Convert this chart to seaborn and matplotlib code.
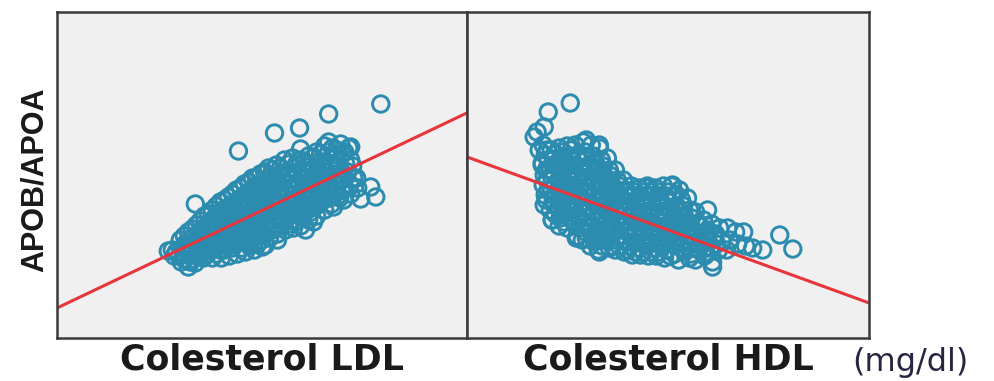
import matplotlib
matplotlib.use("Agg")
import matplotlib.pyplot as plt
from matplotlib import font_manager
import seaborn as sns

# LDL panel (mg/dl vs APOB/APOA ratio)
ldl = [
    86, 87,
    90, 91, 89.5, 90.5,
    94, 95, 93.5, 94.5, 95,
    98, 99, 97.5, 98.5, 99, 97.5,
    102, 103, 101.5, 102.5, 103, 101.5,
    106, 107, 105.5, 106.5, 107, 105.5, 106,
    110, 111, 109.5, 110.5, 111, 109.5, 110, 110.5,
    114, 115, 113.5, 114.5, 115, 113.5, 114, 114.5,
    118, 119, 117.5, 118.5, 119, 117.5, 118, 118.5,
    122, 123, 121.5, 122.5, 123, 121.5, 122, 122.5,
    126, 127, 125.5, 126.5, 127, 125.5, 126, 126.5, 127,
    130, 131, 129.5, 130.5, 131, 129.5, 130, 130.5, 131,
    134, 135, 133.5, 134.5, 135, 133.5, 134, 134.5,
    138, 139, 137.5, 138.5, 139, 137.5, 138, 138.5,
    142, 143, 141.5, 142.5, 143, 141.5, 142, 142.5,
    146, 147, 145.5, 146.5, 147, 145.5, 146, 146.5,
    150, 151, 149.5, 150.5, 151, 149.5, 150,
    154, 155, 153.5, 154.5, 155, 153.5, 154,
    158, 159, 157.5, 158.5, 159, 157.5, 158,
    162, 163, 161.5, 162.5, 163, 161.5, 162,
    166, 167, 165.5, 166.5, 167, 165.5,
    170, 171, 169.5, 170.5, 171, 169.5,
    174, 175, 173.5, 174.5, 175,
    178, 178.5,
    # core of the cloud
    88,
    92, 92.5, 91.5, 92,
    96, 96.5, 95.5, 96, 96.5,
    100, 100.5, 99.5, 100, 100.5,
    104, 104.5, 103.5, 104, 104.5, 103.5,
    108, 108.5, 107.5, 108, 108.5, 107.5, 108,
    112, 112.5, 111.5, 112, 112.5, 111.5, 112,
    116, 116.5, 115.5, 116, 116.5, 115.5, 116,
    120, 120.5, 119.5, 120, 120.5, 119.5, 120, 120.5,
    124, 124.5, 123.5, 124, 124.5, 123.5, 124, 124.5,
    128, 128.5, 127.5, 128, 128.5, 127.5, 128, 128.5,
    132, 132.5, 131.5, 132, 132.5, 131.5, 132,
    136, 136.5, 135.5, 136, 136.5, 135.5, 136,
    140, 140.5, 139.5, 140, 140.5, 139.5, 140,
    144, 144.5, 143.5, 144, 144.5, 143.5, 144,
    148, 148.5, 147.5, 148, 148.5, 147.5,
    152, 152.5, 151.5, 152, 152.5, 151.5,
    156, 156.5, 155.5, 156, 156.5, 155.5,
    160, 160.5, 159.5, 160, 160.5, 159.5,
    164, 164.5, 163.5, 164, 164.5,
    168, 168.5, 167.5, 168, 168.5,
    172, 172.5, 171.5, 172,
    176, 176.5,
    # outliers
    190, 164, 149.5, 137, 119, 150, 97.5, 84, 94, 185,
    187.5, 180, 164, 175, 132.5, 138.5, 152.5, 156.5, 166.5, 171.5,
]
ratio_ldl = [
    0.44, 0.41,
    0.49, 0.45, 0.41, 0.38,
    0.53, 0.49, 0.45, 0.415, 0.38,
    0.565, 0.525, 0.485, 0.445, 0.405, 0.375,
    0.61, 0.56, 0.52, 0.48, 0.44, 0.40,
    0.64, 0.60, 0.56, 0.52, 0.48, 0.44, 0.40,
    0.68, 0.64, 0.60, 0.56, 0.52, 0.48, 0.44, 0.40,
    0.705, 0.66, 0.62, 0.58, 0.54, 0.50, 0.46, 0.41,
    0.74, 0.69, 0.64, 0.60, 0.56, 0.52, 0.48, 0.42,
    0.77, 0.72, 0.67, 0.62, 0.58, 0.54, 0.50, 0.43,
    0.80, 0.75, 0.70, 0.65, 0.60, 0.56, 0.52, 0.47, 0.44,
    0.82, 0.77, 0.72, 0.67, 0.62, 0.57, 0.53, 0.49, 0.455,
    0.85, 0.80, 0.74, 0.69, 0.64, 0.59, 0.54, 0.50,
    0.865, 0.815, 0.76, 0.71, 0.66, 0.61, 0.56, 0.52,
    0.89, 0.83, 0.78, 0.73, 0.68, 0.63, 0.58, 0.54,
    0.90, 0.85, 0.79, 0.74, 0.69, 0.64, 0.59, 0.55,
    0.89, 0.84, 0.78, 0.72, 0.66, 0.61, 0.56,
    0.91, 0.86, 0.80, 0.74, 0.69, 0.64, 0.59,
    0.93, 0.88, 0.82, 0.76, 0.71, 0.66, 0.61,
    0.96, 0.91, 0.85, 0.79, 0.74, 0.69, 0.64,
    0.95, 0.90, 0.84, 0.78, 0.72, 0.67,
    0.97, 0.92, 0.86, 0.80, 0.74, 0.70,
    0.95, 0.89, 0.83, 0.77, 0.72,
    0.80, 0.75,
    # core of the cloud
    0.43,
    0.51, 0.47, 0.43, 0.395,
    0.545, 0.505, 0.465, 0.43, 0.395,
    0.585, 0.54, 0.50, 0.46, 0.42,
    0.62, 0.58, 0.54, 0.50, 0.46, 0.42,
    0.66, 0.62, 0.58, 0.54, 0.50, 0.46, 0.42,
    0.69, 0.64, 0.60, 0.56, 0.52, 0.48, 0.44,
    0.72, 0.67, 0.62, 0.58, 0.54, 0.50, 0.45,
    0.75, 0.70, 0.65, 0.61, 0.57, 0.53, 0.49, 0.45,
    0.78, 0.73, 0.68, 0.63, 0.58, 0.54, 0.50, 0.46,
    0.80, 0.75, 0.70, 0.65, 0.60, 0.55, 0.51, 0.47,
    0.83, 0.77, 0.72, 0.67, 0.62, 0.57, 0.52,
    0.84, 0.79, 0.74, 0.69, 0.64, 0.59, 0.54,
    0.85, 0.80, 0.75, 0.70, 0.65, 0.60, 0.56,
    0.87, 0.82, 0.77, 0.72, 0.67, 0.62, 0.57,
    0.87, 0.82, 0.76, 0.70, 0.64, 0.58,
    0.88, 0.83, 0.77, 0.72, 0.67, 0.62,
    0.90, 0.84, 0.78, 0.73, 0.68, 0.63,
    0.92, 0.87, 0.82, 0.77, 0.72, 0.67,
    0.93, 0.87, 0.81, 0.75, 0.70,
    0.94, 0.88, 0.82, 0.76, 0.71,
    0.93, 0.87, 0.81, 0.75,
    0.86, 0.80,
    # outliers
    1.17, 1.12, 1.05, 1.025, 0.935, 0.945, 0.67, 0.435, 0.355, 0.755,
    0.705, 0.695, 0.98, 0.955, 0.465, 0.49, 0.54, 0.58, 0.655, 0.69,
]

# HDL panel
hdl = [
    29, 29.5, 28.75, 29.25, 29, 29.5, 29.25,
    31, 31.5, 30.75, 31.25, 31, 31.5, 30.75, 31.25,
    33, 33.5, 32.75, 33.25, 33, 33.5, 32.75, 33.25, 33,
    35, 35.5, 34.75, 35.25, 35, 35.5, 34.75, 35.25, 35,
    37, 37.5, 36.75, 37.25, 37, 37.5, 36.75, 37.25, 37, 37.5,
    39, 39.5, 38.75, 39.25, 39, 39.5, 38.75, 39.25, 39, 39.5, 38.75,
    41, 41.5, 40.75, 41.25, 41, 41.5, 40.75, 41.25, 41, 41.5, 40.75,
    43, 43.5, 42.75, 43.25, 43, 43.5, 42.75, 43.25, 43, 43.5, 42.75,
    45, 45.5, 44.75, 45.25, 45, 45.5, 44.75, 45.25, 45, 45.5,
    47, 47.5, 46.75, 47.25, 47, 47.5, 46.75, 47.25, 47,
    49, 49.5, 48.75, 49.25, 49, 49.5, 48.75, 49.25,
    51, 51.5, 50.75, 51.25, 51, 51.5, 50.75, 51.25,
    53, 53.5, 52.75, 53.25, 53, 53.5, 52.75, 53.25,
    55, 55.5, 54.75, 55.25, 55, 55.5, 54.75, 55.25,
    57, 57.5, 56.75, 57.25, 57, 57.5, 56.75, 57.25,
    59, 59.5, 58.75, 59.25, 59, 59.5, 58.75, 59.25,
    61, 61.5, 60.75, 61.25, 61, 61.5, 60.75,
    63, 63.5, 62.75, 63.25, 63, 63.5, 62.75,
    65, 65.5, 64.75, 65.25, 65, 65.5,
    67, 67.5, 66.75, 67.25, 67,
    69, 69.5, 68.75, 69.25,
    71, 71.5, 70.75, 71.25,
    73, 73.5, 72.75,
    75, 75.5, 74.75,
    77, 77.5,
    79, 79.5,
    # core of the cloud
    30, 30.25, 29.75, 30, 30.25, 29.75,
    32, 32.25, 31.75, 32, 32.25, 31.75, 32,
    34, 34.25, 33.75, 34, 34.25, 33.75, 34, 34.25,
    36, 36.25, 35.75, 36, 36.25, 35.75, 36, 36.25,
    38, 38.25, 37.75, 38, 38.25, 37.75, 38, 38.25,
    40, 40.25, 39.75, 40, 40.25, 39.75, 40, 40.25, 39.75,
    42, 42.25, 41.75, 42, 42.25, 41.75, 42, 42.25, 41.75,
    44, 44.25, 43.75, 44, 44.25, 43.75, 44, 44.25, 43.75,
    46, 46.25, 45.75, 46, 46.25, 45.75, 46, 46.25,
    48, 48.25, 47.75, 48, 48.25, 47.75, 48,
    50, 50.25, 49.75, 50, 50.25, 49.75, 50,
    52, 52.25, 51.75, 52, 52.25, 51.75, 52,
    54, 54.25, 53.75, 54, 54.25, 53.75, 54,
    56, 56.25, 55.75, 56, 56.25, 55.75, 56,
    58, 58.25, 57.75, 58, 58.25, 57.75, 58,
    60, 60.25, 59.75, 60, 60.25, 59.75,
    62, 62.25, 61.75, 62, 62.25, 61.75,
    64, 64.25, 63.75, 64, 64.25,
    66, 66.25, 65.75, 66,
    68, 68.25, 67.75,
    70, 70.25, 69.75,
    72, 72.25,
    # outliers
    35.75, 30.25, 29.25, 27.5, 26.75, 28, 28.75, 39.75, 43, 70,
    88, 91.25, 83.75, 71.25, 81.25, 61.25, 54.75, 31.25, 37.25, 43,
]
ratio_hdl = [
    0.965, 0.915, 0.865, 0.815, 0.765, 0.715, 0.665,
    0.94, 0.89, 0.84, 0.79, 0.74, 0.69, 0.64, 0.59,
    0.95, 0.90, 0.85, 0.80, 0.75, 0.70, 0.65, 0.60, 0.56,
    0.96, 0.91, 0.86, 0.81, 0.76, 0.71, 0.66, 0.61, 0.55,
    0.965, 0.915, 0.865, 0.815, 0.765, 0.715, 0.665, 0.615, 0.565, 0.51,
    0.98, 0.93, 0.88, 0.83, 0.78, 0.73, 0.68, 0.63, 0.58, 0.53, 0.49,
    0.965, 0.91, 0.86, 0.81, 0.76, 0.71, 0.66, 0.61, 0.56, 0.51, 0.46,
    0.95, 0.89, 0.84, 0.79, 0.74, 0.69, 0.64, 0.59, 0.54, 0.49, 0.44,
    0.90, 0.84, 0.79, 0.74, 0.69, 0.64, 0.59, 0.54, 0.49, 0.45,
    0.84, 0.79, 0.74, 0.69, 0.64, 0.59, 0.54, 0.49, 0.44,
    0.79, 0.74, 0.69, 0.64, 0.59, 0.54, 0.49, 0.43,
    0.76, 0.71, 0.66, 0.61, 0.56, 0.51, 0.46, 0.415,
    0.75, 0.70, 0.65, 0.60, 0.55, 0.50, 0.45, 0.415,
    0.76, 0.71, 0.66, 0.61, 0.56, 0.51, 0.46, 0.41,
    0.75, 0.70, 0.65, 0.60, 0.55, 0.50, 0.45, 0.41,
    0.76, 0.71, 0.66, 0.61, 0.56, 0.51, 0.46, 0.40,
    0.76, 0.71, 0.65, 0.59, 0.53, 0.47, 0.41,
    0.74, 0.69, 0.63, 0.57, 0.51, 0.45, 0.39,
    0.70, 0.64, 0.58, 0.52, 0.46, 0.40,
    0.63, 0.57, 0.51, 0.45, 0.39,
    0.59, 0.53, 0.47, 0.41,
    0.57, 0.51, 0.45, 0.38,
    0.55, 0.49, 0.44,
    0.55, 0.49, 0.44,
    0.53, 0.47,
    0.53, 0.46,
    # core of the cloud
    0.94, 0.89, 0.84, 0.79, 0.74, 0.69,
    0.92, 0.87, 0.82, 0.77, 0.72, 0.67, 0.62,
    0.93, 0.88, 0.83, 0.78, 0.73, 0.68, 0.63, 0.58,
    0.94, 0.89, 0.84, 0.79, 0.74, 0.69, 0.64, 0.59,
    0.90, 0.85, 0.80, 0.75, 0.70, 0.65, 0.60, 0.55,
    0.90, 0.85, 0.80, 0.75, 0.70, 0.65, 0.60, 0.55, 0.50,
    0.88, 0.83, 0.78, 0.73, 0.68, 0.63, 0.58, 0.53, 0.48,
    0.86, 0.81, 0.76, 0.71, 0.66, 0.61, 0.56, 0.51, 0.46,
    0.81, 0.76, 0.71, 0.66, 0.61, 0.56, 0.51, 0.46,
    0.76, 0.71, 0.66, 0.61, 0.56, 0.51, 0.46,
    0.73, 0.68, 0.63, 0.58, 0.53, 0.48, 0.44,
    0.73, 0.68, 0.63, 0.58, 0.53, 0.48, 0.43,
    0.73, 0.68, 0.63, 0.58, 0.53, 0.48, 0.43,
    0.73, 0.68, 0.63, 0.58, 0.53, 0.48, 0.43,
    0.73, 0.68, 0.63, 0.58, 0.53, 0.48, 0.43,
    0.73, 0.68, 0.62, 0.56, 0.50, 0.44,
    0.72, 0.66, 0.60, 0.54, 0.48, 0.42,
    0.66, 0.61, 0.55, 0.49, 0.43,
    0.60, 0.54, 0.48, 0.42,
    0.56, 0.50, 0.44,
    0.54, 0.48, 0.42,
    0.52, 0.47,
    # outliers
    1.175, 1.13, 1.055, 1.03, 1.005, 0.94, 0.875, 0.99, 0.965, 0.64,
    0.515, 0.445, 0.44, 0.355, 0.45, 0.765, 0.75, 0.59, 0.50, 0.43,
]

# fit lines (intercept, slope)
ldl_fit = (0.014, 0.00477)
hdl_fit = (0.978, -0.00728)

teal = "#2b8cb0"
red = "#e8353c"

sns.set_theme(style="white")
plt.rcParams["font.family"] = ["DejaVu Sans"]

# narrow bold face for the y label, if present
try:
    font_manager.findfont("Liberation Sans Narrow", fallback_to_default=False)
    ylab_font, ylab_size = "Liberation Sans Narrow", 26.5
except ValueError:
    ylab_font, ylab_size = "Liberation Sans", 22

fig = plt.figure(figsize=(9.94, 3.81), dpi=100)
ax1 = fig.add_axes([57 / 994, 43 / 381, 410 / 994, 326 / 381])
ax2 = fig.add_axes([467 / 994, 43 / 381, 402 / 994, 326 / 381])

panels = [
    (ax1, ldl, ratio_ldl, ldl_fit, (28.5, 233), "Colesterol LDL"),
    (ax2, hdl, ratio_hdl, hdl_fit, (10, 110.25), "Colesterol HDL"),
]
for ax, xs, ys, fit, xlim, label in panels:
    ax.set_facecolor("#f0f0f0")
    sns.scatterplot(x=xs, y=ys, ax=ax, marker="o", s=140,
                    facecolors="none", edgecolors=teal, linewidth=2.1)
    ax.axline((0, fit[0]), slope=fit[1], color=red, lw=2.2)
    ax.set_xlim(*xlim)
    ax.set_ylim(0, 1.63)
    ax.set_xticks([])
    ax.set_yticks([])
    ax.set_xlabel(label, fontsize=25, fontweight="bold", color="#1a1a1a", labelpad=3)
    for sp in ax.spines.values():
        sp.set_visible(True)
        sp.set_color("#3a3a3a")
        sp.set_linewidth(1.8)

ax1.set_ylabel("APOB/APOA", fontsize=ylab_size, fontweight="bold", color="#1a1a1a",
               family=ylab_font)
ax1.yaxis.set_label_coords(-0.017, 0.485)

fig.text(852 / 994, 18 / 381, "(mg/dl)", fontsize=23, color="#262640",
         ha="left", va="center")

fig.savefig("out.png", dpi=100, facecolor="white")
